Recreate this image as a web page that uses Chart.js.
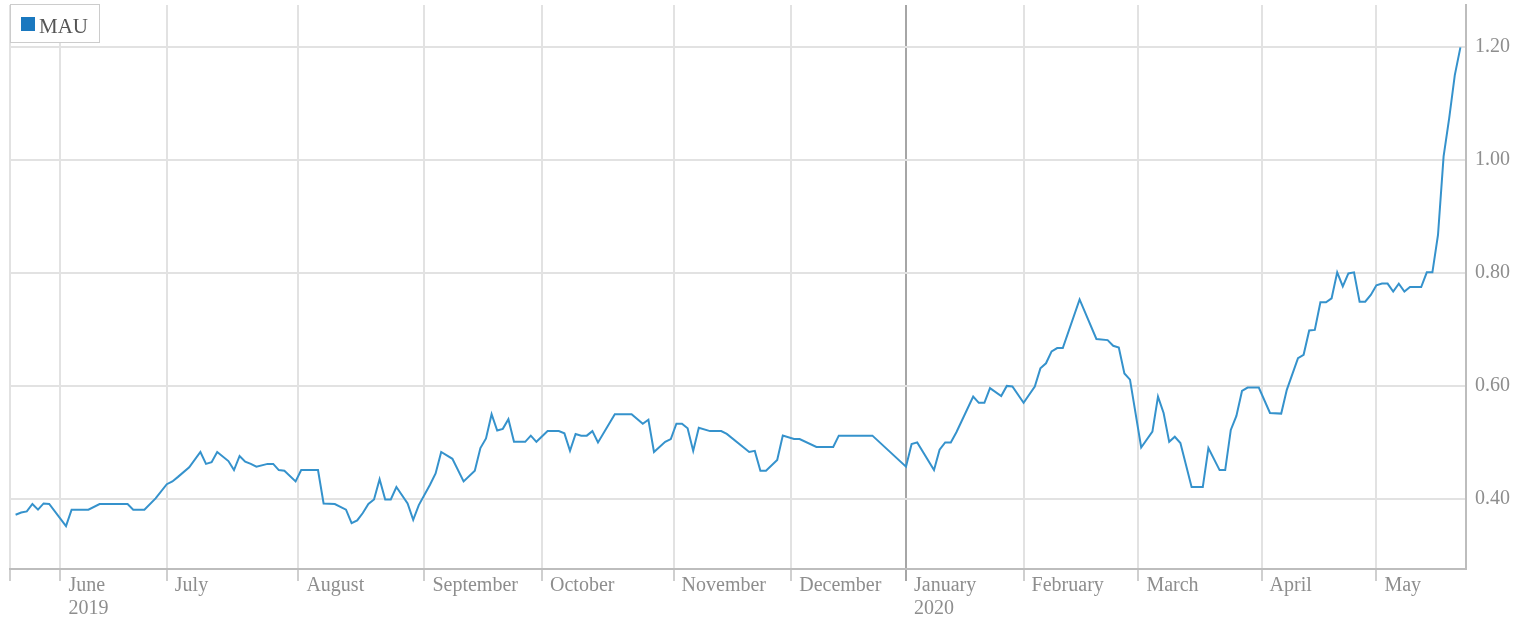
<!DOCTYPE html>
<html>
<head>
<meta charset="utf-8">
<script src="https://cdn.jsdelivr.net/npm/chart.js@4/dist/chart.umd.min.js"></script>
<style>
html,body{margin:0;padding:0;background:#ffffff;}
#wrap{position:relative;width:1528px;height:626px;}
canvas{display:block;}
</style>
</head>
<body>
<div id="wrap"><canvas id="c" width="1528" height="626"></canvas></div>
<script>
// ---- data ----
const seriesName = 'MAU';
// trading-session index (0 = left edge of the plot, ~late May 2019)
const sessionIndex = [
  1,2,3,4,5,6,7,10,11,14,16,21,22,24,26,28,29,30,32,34,
  35,36,37,39,40,41,42,43,44,46,47,48,49,51,52,55,56,58,60,61,
  62,63,64,65,66,67,68,69,71,72,73,75,76,77,79,81,83,84,85,86,
  87,88,89,90,92,93,94,96,98,99,100,101,102,103,104,105,108,111,113,114,
  115,117,118,119,120,121,122,123,125,127,128,132,133,134,135,137,138,140,141,144,
  147,148,154,160,161,162,165,166,167,168,169,172,173,174,175,177,178,179,181,183,
  184,185,186,187,188,191,194,196,197,198,199,200,202,204,205,206,207,208,209,211,
  213,214,216,217,218,219,220,221,223,225,227,228,230,231,232,233,234,235,236,237,
  238,239,240,241,242,243,244,245,246,247,248,249,250,252,253,254,255,256,257,258,
  259
];
const mauValues = [
  0.372,0.376,0.378,0.391,0.381,0.392,0.391,0.352,0.381,0.381,0.391,0.391,0.381,0.381,0.401,0.426,0.431,0.439,0.456,0.483,
  0.462,0.465,0.483,0.467,0.451,0.476,0.466,0.462,0.457,0.462,0.462,0.451,0.450,0.431,0.451,0.451,0.392,0.391,0.381,0.357,
  0.362,0.375,0.391,0.399,0.435,0.399,0.399,0.421,0.392,0.363,0.389,0.425,0.445,0.483,0.471,0.431,0.450,0.490,0.507,0.550,
  0.521,0.524,0.541,0.501,0.501,0.512,0.501,0.520,0.520,0.516,0.485,0.515,0.512,0.512,0.520,0.500,0.550,0.550,0.533,0.540,
  0.483,0.501,0.506,0.533,0.533,0.525,0.485,0.526,0.520,0.520,0.515,0.483,0.485,0.450,0.450,0.469,0.512,0.506,0.506,0.492,
  0.492,0.512,0.512,0.457,0.497,0.500,0.451,0.487,0.500,0.500,0.518,0.581,0.570,0.570,0.596,0.582,0.600,0.599,0.570,0.599,
  0.631,0.640,0.661,0.667,0.667,0.753,0.683,0.681,0.671,0.668,0.622,0.611,0.491,0.519,0.581,0.552,0.501,0.510,0.499,0.421,
  0.421,0.490,0.451,0.451,0.522,0.547,0.591,0.597,0.597,0.552,0.551,0.593,0.649,0.655,0.698,0.699,0.748,0.748,0.755,0.801,
  0.776,0.799,0.801,0.749,0.749,0.761,0.778,0.781,0.781,0.767,0.781,0.767,0.775,0.775,0.801,0.801,0.867,1.006,1.074,1.150,
  1.199
];
// month boundaries on the session axis and their labels
const monthTickPositions = [9, 28, 51.5, 74, 95, 118.5, 139.5, 160, 181, 201.5, 223.5, 244];
const monthTickLabels = [['June','2019'],'July','August','September','October','November','December',['January','2020'],'February','March','April','May'];
const yearStartPosition = 160;
const yTickValues = [0.40, 0.60, 0.80, 1.00, 1.20];

// ---- styling ----
const FONT = "'Liberation Serif', 'Times New Roman', serif";
const LABEL_COLOR = '#8e8e8e';
const GRID_COLOR = '#e2e2e2';

const legendBoxPlugin = {
  id: 'legendBox',
  afterDraw(chart) {
    const ctx = chart.ctx;
    const ds = chart.data.datasets[0];
    const a = chart.chartArea;
    const x = a.left, y = a.top - 1, w = 89, h = 38;
    ctx.save();
    ctx.fillStyle = '#ffffff';
    ctx.fillRect(x, y, w, h);
    ctx.strokeStyle = '#cccccc';
    ctx.lineWidth = 1;
    ctx.strokeRect(x + 0.5, y + 0.5, w, h);
    ctx.fillStyle = ds.backgroundColor;
    ctx.fillRect(x + 11, y + 13, 14, 14);
    ctx.fillStyle = '#555555';
    ctx.font = '21px ' + FONT;
    ctx.textBaseline = 'alphabetic';
    ctx.textAlign = 'left';
    ctx.fillText(ds.label, x + 29, y + 29);
    ctx.restore();
  }
};

new Chart(document.getElementById('c'), {
  type: 'line',
  data: {
    datasets: [{
      label: seriesName,
      data: sessionIndex.map((s, i) => ({ x: s, y: mauValues[i] })),
      borderColor: '#3592cc',
      backgroundColor: '#1a78bf',
      borderWidth: 2,
      pointRadius: 0,
      tension: 0,
      fill: false
    }]
  },
  options: {
    responsive: false,
    animation: false,
    layout: { padding: { left: 10, top: 5, right: 0, bottom: 0 } },
    plugins: { legend: { display: false }, tooltip: { enabled: false } },
    scales: {
      x: {
        type: 'linear',
        min: 0,
        max: 260,
        afterBuildTicks: (sc) => { sc.ticks = [{ value: 0 }].concat(monthTickPositions.map(v => ({ value: v }))); },
        afterFit: (sc) => { sc.height = 57; sc.paddingLeft = 0; sc.paddingRight = 0; },
        ticks: {
          autoSkip: false,
          maxRotation: 0,
          align: 'start',
          labelOffset: 8,
          padding: -7,
          color: LABEL_COLOR,
          font: { family: FONT, size: 20, lineHeight: 1.15 },
          callback: (v) => {
            const k = monthTickPositions.indexOf(v);
            return k < 0 ? '' : monthTickLabels[k];
          }
        },
        grid: {
          color: (c) => (c.tick && c.tick.value === yearStartPosition) ? '#a6a6a6' : GRID_COLOR,
          tickColor: (c) => (c.tick && c.tick.value === yearStartPosition) ? '#a6a6a6' : '#cfcfcf',
          lineWidth: 2,
          tickLength: 12,
          drawOnChartArea: true
        },
        border: { color: '#bdbdbd', width: 2 }
      },
      y: {
        position: 'right',
        min: 0.276,
        max: 1.274,
        afterBuildTicks: (sc) => { sc.ticks = yTickValues.map(v => ({ value: v })); },
        afterFit: (sc) => { sc.width = 62; sc.paddingTop = 0; sc.paddingBottom = 0; },
        ticks: {
          padding: 9,
          color: LABEL_COLOR,
          font: { family: FONT, size: 20 },
          callback: (v) => Number(v).toFixed(2)
        },
        grid: { color: GRID_COLOR, lineWidth: 2, drawTicks: false },
        border: { color: '#bdbdbd', width: 2 }
      }
    }
  },
  plugins: [legendBoxPlugin]
});
</script>
</body>
</html>
